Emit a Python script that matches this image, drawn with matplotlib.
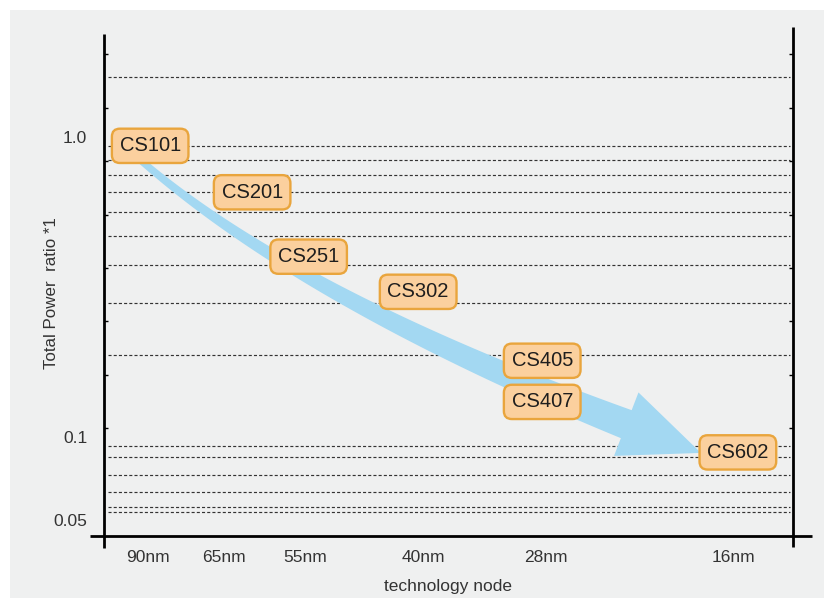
import numpy as np
import matplotlib
matplotlib.use("Agg")
from matplotlib import pyplot as plt
from matplotlib.patches import Polygon, Rectangle

plt.rcParams["font.family"] = ["Liberation Sans", "DejaVu Sans"]

# data
nodes = ["90nm", "65nm", "55nm", "40nm", "28nm", "16nm"]
chips = ["CS101", "CS201", "CS251", "CS302", "CS405", "CS407", "CS602"]
chip_x = [6.7, 21.5, 29.7, 45.6, 63.6, 63.6, 92.0]
chip_power = [1.0, 0.70, 0.427, 0.326, 0.192, 0.140, 0.095]
y_ticks = [1.0, 0.1, 0.05]
y_tick_labels = ["1.0", "0.1", "0.05"]
grid_levels = [1.7, 1.0, 0.9, 0.8, 0.7, 0.6, 0.5, 0.4, 0.3, 0.2,
               0.1, 0.092, 0.08, 0.07, 0.0626, 0.06]

# layout
node_pos = [6.4, 17.4, 29.2, 46.3, 64.2, 91.4]
arrow_start = (5.2, 0.9)
arrow_bend = (28.4, 0.31)
arrow_end = (75.8, 0.118)

fig = plt.figure(figsize=(8.24, 5.98), dpi=100, facecolor="white")
fig.add_artist(Rectangle((10 / 824, 0), 1 - 10 / 824, 588 / 598,
                         transform=fig.transFigure, fc="#eff0f0", ec="none",
                         zorder=-10))

ax = fig.add_axes([104 / 824, 62 / 598, 689 / 824, 502 / 598])
ax.set_facecolor("none")
ax.set_yscale("log")
ax.set_xlim(0, 100)
ax.set_ylim(0.05, 2.36)
for s in ax.spines.values():
    s.set_visible(False)

# dashed guide lines
for lv in grid_levels:
    ax.axhline(lv, xmin=0.006, xmax=0.995, color="#333333", lw=0.85,
               linestyle=(0, (2.6, 1.8)), zorder=1)

# frame lines
frame = dict(color="black", lw=2.0, clip_on=False, transform=ax.transAxes,
             solid_capstyle="butt", zorder=6)
ax.plot([0, 0], [-0.024, 1.0], **frame)
ax.plot([1.0, 1.0], [-0.022, 1.014], **frame)
ax.plot([-0.020, 1.0276], [0, 0], **frame)

# ticks and labels
ax.set_xticks(node_pos, nodes)
ax.tick_params(axis="x", length=0, pad=10, labelsize=12.5, labelcolor="#333333")
ax.set_yticks(y_ticks, y_tick_labels)
ax.yaxis.set_minor_locator(matplotlib.ticker.NullLocator())
ax.tick_params(axis="y", length=0, pad=12, labelsize=12.5, labelcolor="#333333")
for lab in ax.get_yticklabels():
    lab.set_verticalalignment("bottom")
ax.get_yticklabels()[-1].set_transform(
    ax.get_yticklabels()[-1].get_transform()
    + matplotlib.transforms.ScaledTranslation(0, 5 / 72, fig.dpi_scale_trans))

ax.set_xlabel("technology node", fontsize=12.5, color="#333333", labelpad=10)
ax.set_ylabel("Total Power  ratio *1", fontsize=12.2, color="#333333")
ax.yaxis.set_label_coords(-0.066, 0.484)

# small inward ticks along both vertical spines
ax2 = ax.twinx()
ax2.set_ylim(-2.02, 7.38)
ax2.set_yticks(range(0, 8))
ax2.tick_params(axis="y", direction="in", length=3, width=1, left=True,
                right=True, labelleft=False, labelright=False)
for s in ax2.spines.values():
    s.set_visible(False)

# curved arrow built in display space
P = ax.transData.transform(np.array([arrow_start, arrow_bend, arrow_end]))
t = np.linspace(0, 1, 80)[:, None]
curve = (1 - t) ** 2 * P[0] + 2 * (1 - t) * t * P[1] + t ** 2 * P[2]
deriv = 2 * (1 - t) * (P[1] - P[0]) + 2 * t * (P[2] - P[1])
tang = deriv / np.linalg.norm(deriv, axis=1, keepdims=True)
norm = np.column_stack([-tang[:, 1], tang[:, 0]])
w = 7 + 23 * t[:, 0] ** 1.4
side_a = curve + norm * w[:, None] / 2
side_b = curve - norm * w[:, None] / 2
base = curve[-1]
d = tang[-1]
n = norm[-1]
head = np.array([base + n * 34, base + d * 80, base - n * 34])
pts = np.vstack([side_a, head, side_b[::-1]])
pts = ax.transData.inverted().transform(pts)
ax.add_patch(Polygon(pts, closed=True, fc="#a3d8f2", ec="none", zorder=3))

# chip labels
for name, x, y in zip(chips, chip_x, chip_power):
    ax.text(x, y, name, ha="center", va="center", fontsize=14.5,
            color="#1e1e1e", zorder=8,
            bbox=dict(boxstyle="round,pad=0.38,rounding_size=0.4",
                      fc="#fbd09e", ec="#e9a53d", lw=1.7))

fig.savefig("out.png", dpi=100, facecolor=fig.get_facecolor())
